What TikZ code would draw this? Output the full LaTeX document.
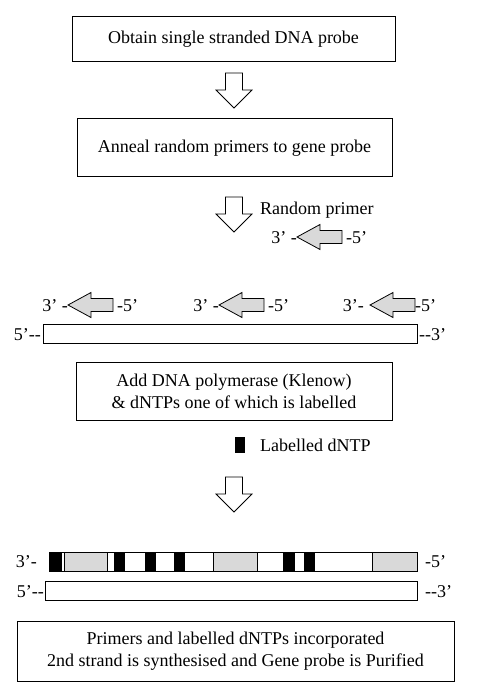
\documentclass[tikz,border=0pt]{standalone}
\usepackage{fontspec}
\setmainfont{Liberation Serif}
\definecolor{lgray}{RGB}{217,217,217}
\tikzset{
  txt/.style={font=\fontsize{18}{22}\selectfont, inner sep=0pt},
  stepbox/.style={draw, line width=1pt, txt, align=center},
  strand/.style={draw, line width=0.9pt},
  downarrow/.pic={\draw[line width=0.8pt, fill=white]
    (-8.5,0) -- (8.5,0) -- (8.5,17) -- (18,17) -- (0,35) -- (-18,17) -- (-8.5,17) -- cycle;},
  primer/.pic={\draw[line width=0.8pt, fill=lgray]
    (0,0) -- (23,-12.5) -- (23,-6.5) -- (45,-6.5) -- (45,6.5) -- (23,6.5) -- (23,12.5) -- cycle;},
  seg/.style={draw, line width=0.8pt}
}
\begin{document}
\begin{tikzpicture}[x=1pt,y=-1pt]
\useasboundingbox (0,0) rectangle (487,692);
% boxes
\node[stepbox, minimum width=323pt, minimum height=45pt] (b1) at (233.5,39.5) {Obtain single stranded DNA probe};
\node[stepbox, minimum width=315pt, minimum height=58pt] (b2) at (234.5,148) {Anneal random primers to gene probe};
\node[stepbox, minimum width=316pt, minimum height=58pt] (b3) at (234,391) {Add DNA polymerase (Klenow)\\ \& dNTPs one of which is labelled};
\node[stepbox, minimum width=437pt, minimum height=60pt] (b4) at (235.5,651) {Primers and labelled dNTPs incorporated\\ 2nd strand is synthesised and Gene probe is Purified};
% down arrows
\pic at (234,73) {downarrow};
\pic at (234,197) {downarrow};
\pic at (234,477) {downarrow};
% random primer legend
\node[txt, anchor=west] (rp) at (260,210) {Random primer};
\pic at (297,237) {primer};
\node[txt, anchor=east] (p0l) at (297,238) {3’ -};
\node[txt, anchor=west] (p0r) at (346,238) {-5’};
% primers on template
\pic at (68,305) {primer};
\node[txt, anchor=east] (p1l) at (68,306) {3’ -};
\node[txt, anchor=west] (p1r) at (117,306) {-5’};
\pic at (219,305) {primer};
\node[txt, anchor=east] (p2l) at (219,306) {3’ -};
\node[txt, anchor=west] (p2r) at (268,306) {-5’};
\pic at (370,305) {primer};
\node[txt, anchor=east] (p3l) at (364,306) {3’-};
\node[txt, anchor=west] (p3r) at (415,306) {-5’};
% template strand 1
\draw[strand] (43,324) rectangle (417,343);
\node[txt, anchor=east] (s1l) at (41,335) {5’-{}-};
\node[txt, anchor=west] (s1r) at (419,335) {-{}-3’};
% labelled dNTP legend
\fill (235,437) rectangle (245,453);
\node[txt, anchor=west] (ld) at (260,445) {Labelled dNTP};
% synthesised strand
\draw[seg, fill=black] (49,552) rectangle (61,571);
\draw[seg, fill=white] (61,552) rectangle (64,571);
\draw[seg, fill=lgray] (64,552) rectangle (107,571);
\draw[seg, fill=white] (107,552) rectangle (114,571);
\draw[seg, fill=black] (114,552) rectangle (124,571);
\draw[seg, fill=white] (124,552) rectangle (145,571);
\draw[seg, fill=black] (145,552) rectangle (155,571);
\draw[seg, fill=white] (155,552) rectangle (174,571);
\draw[seg, fill=black] (174,552) rectangle (184,571);
\draw[seg, fill=white] (184,552) rectangle (213,571);
\draw[seg, fill=lgray] (213,552) rectangle (257,571);
\draw[seg, fill=white] (257,552) rectangle (283,571);
\draw[seg, fill=black] (283,552) rectangle (294,571);
\draw[seg, fill=white] (294,552) rectangle (304,571);
\draw[seg, fill=black] (304,552) rectangle (314,571);
\draw[seg, fill=white] (314,552) rectangle (372,571);
\draw[seg, fill=lgray] (372,552) rectangle (417,571);
\node[txt, anchor=east] (s2l) at (37,562) {3’-};
\node[txt, anchor=west] (s2r) at (425,562) {-5’};
% template strand 2
\draw[strand] (45,581) rectangle (417,600);
\node[txt, anchor=east] (s3l) at (44,592) {5’-{}-};
\node[txt, anchor=west] (s3r) at (425,592) {-{}-3’};
\end{tikzpicture}
\end{document}
